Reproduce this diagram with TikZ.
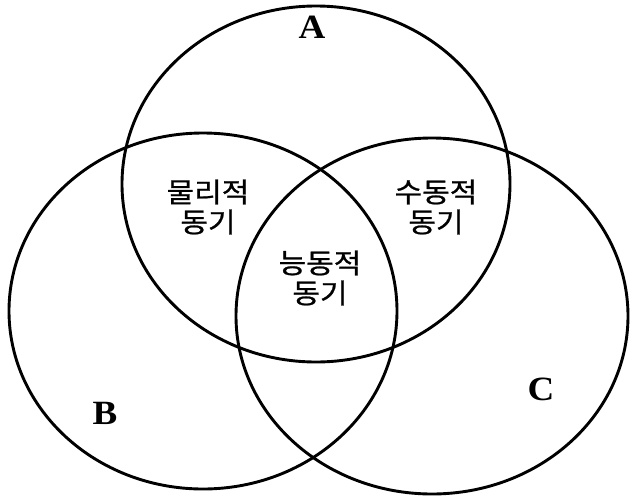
\documentclass[tikz,border=0pt]{standalone}
\usepackage{fontspec}
\setmainfont{Liberation Serif}
\newfontfamily\krfont[FakeBold=0.8]{Noto Sans CJK KR}
\begin{document}
\begin{tikzpicture}[x=1pt,y=-1pt,
  ring/.style={draw=black,line width=2.9pt},
  setlabel/.style={font=\fontsize{34}{34}\selectfont\bfseries,inner sep=0pt},
  zone/.style={font=\krfont\fontsize{27.5}{30}\selectfont,align=center,inner sep=0pt}]
\useasboundingbox (0,0) rectangle (633,496);
\draw[ring] (316,184) ellipse [x radius=194, y radius=178];
\draw[ring] (203,311) ellipse [x radius=194, y radius=178];
\draw[ring] (432,316) ellipse [x radius=196, y radius=178];
\node[setlabel] (A) at (312,27) {\scalebox{1.09}[1]{A}};
\node[setlabel] (B) at (105,413) {\scalebox{1.09}[1]{B}};
\node[setlabel] (C) at (541,389) {\scalebox{1.09}[1]{C}};
\node[zone] (ab) at (208,207) {\scalebox{1.09}[1]{물리적}\\\scalebox{1.09}[1]{동기}};
\node[zone] (ac) at (436,207) {\scalebox{1.09}[1]{수동적}\\\scalebox{1.09}[1]{동기}};
\node[zone] (abc) at (320,278) {\scalebox{1.09}[1]{능동적}\\\scalebox{1.09}[1]{동기}};
\end{tikzpicture}
\end{document}
